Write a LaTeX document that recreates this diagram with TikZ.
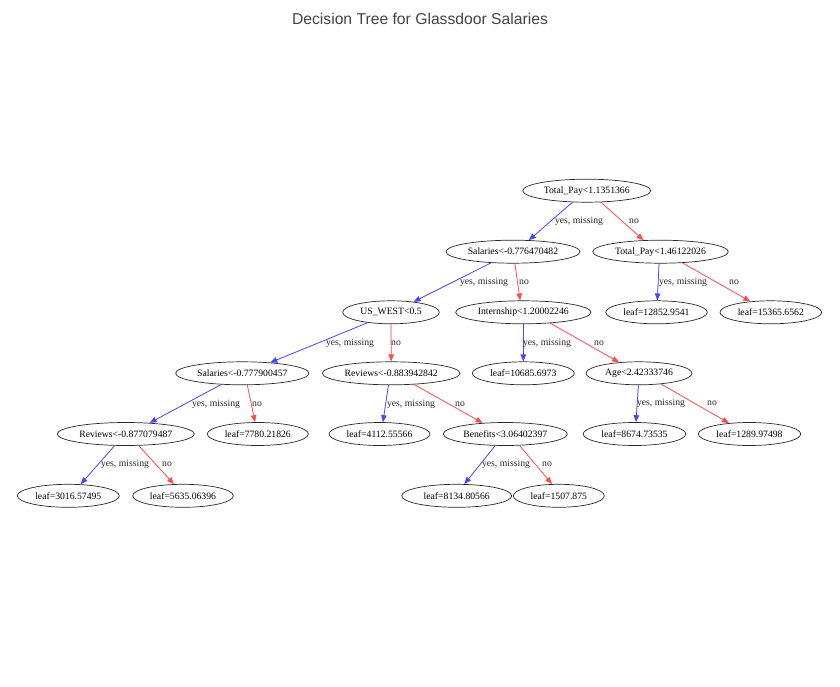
\documentclass[tikz,border=0pt]{standalone}
\usepackage{fontspec}
\setmainfont{Liberation Serif}
\newfontfamily\titlefont{Liberation Sans}
\usetikzlibrary{arrows.meta,shapes.geometric}
\definecolor{yescol}{RGB}{70,70,255}
\definecolor{nocol}{RGB}{255,75,75}
\definecolor{titlegray}{RGB}{68,68,68}
\definecolor{inkgray}{RGB}{40,40,40}
\begin{document}
\begin{tikzpicture}[x=1pt,y=-1pt,
  tn/.style={ellipse,draw=inkgray,line width=0.7pt,inner sep=0pt,minimum height=23pt,
    text=black,font=\fontsize{9.7}{11}\selectfont},
  yesedge/.style={draw=yescol,line width=0.75pt,-{Triangle[length=7pt,width=5.5pt]},fill=yescol},
  noedge/.style={draw=nocol,line width=0.75pt,-{Triangle[length=7pt,width=5.5pt]},fill=nocol},
  lab/.style={font=\fontsize{9.7}{11}\selectfont,inner sep=0pt,text=inkgray},
  ttl/.style={font=\titlefont\fontsize{15.7}{18}\selectfont,text=titlegray,inner sep=0pt}]
\fill[white] (0,0) rectangle (840,687);
\path[use as bounding box] (0,0) rectangle (840,687);

\node[ttl] (title) at (420,19) {Decision Tree for Glassdoor Salaries};

\node[tn,minimum width=128pt] (tp1) at (586.7,190.7) {Total\_Pay<1.1351366};
\node[tn,minimum width=134pt] (sal1) at (513,251.7) {Salaries<-0.776470482};
\node[tn,minimum width=135.6pt] (tp2) at (660.5,251.7) {Total\_Pay<1.46122026};
\node[tn,minimum width=96.6pt] (usw) at (391,312.3) {US\_WEST<0.5};
\node[tn,minimum width=135.3pt] (int) at (523.3,312.3) {Internship<1.20002246};
\node[tn,minimum width=101.6pt] (l1) at (656.5,312.3) {leaf=12852.9541};
\node[tn,minimum width=101.7pt] (l2) at (770.8,312.3) {leaf=15365.6562};
\node[tn,minimum width=133.3pt] (sal2) at (242.3,373.3) {Salaries<-0.777900457};
\node[tn,minimum width=137.7pt] (rev1) at (391.2,373.3) {Reviews<-0.883942842};
\node[tn,minimum width=102pt] (l3) at (523.3,373.3) {leaf=10685.6973};
\node[tn,minimum width=106pt] (age) at (639,373.3) {Age<2.42333746};
\node[tn,minimum width=137pt] (rev2) at (125.8,434) {Reviews<-0.877079487};
\node[tn,minimum width=101pt] (l4) at (257.8,434) {leaf=7780.21826};
\node[tn,minimum width=101pt] (l5) at (379.5,434) {leaf=4112.55566};
\node[tn,minimum width=124pt] (ben) at (505.3,434) {Benefits<3.06402397};
\node[tn,minimum width=102.7pt] (l6) at (634.5,434) {leaf=8674.73535};
\node[tn,minimum width=102.4pt] (l7) at (749.5,434) {leaf=1289.97498};
\node[tn,minimum width=102pt] (l8) at (68.3,495.8) {leaf=3016.57495};
\node[tn,minimum width=100.6pt] (l9) at (183,495.8) {leaf=5635.06396};
\node[tn,minimum width=110pt] (l10) at (456.7,495.8) {leaf=8134.80566};
\node[tn,minimum width=91pt] (l11) at (558.8,495.8) {leaf=1507.875};

\draw[yesedge] (tp1.219) -- (sal1.36);
\draw[noedge] (tp1.321) -- (tp2.146);
\draw[yesedge] (sal1.207) -- (usw.25);
\draw[noedge] (sal1.279) -- (int.105);
\draw[yesedge] (tp2.263) -- (l1.86);
\draw[noedge] (tp2.333) -- (l2.152);
\draw[yesedge] (usw.204) -- (sal2.21);
\draw[noedge] (usw.270) -- (rev1.90);
\draw[yesedge] (int.270) -- (l3.90);
\draw[noedge] (int.338) -- (age.151);
\draw[yesedge] (sal2.208) -- (rev2.25);
\draw[noedge] (sal2.293) -- (l4.103);
\draw[yesedge] (rev1.257) -- (l5.74);
\draw[noedge] (rev1.334) -- (ben.154);
\draw[yesedge] (age.267) -- (l6.83);
\draw[noedge] (age.334) -- (l7.152);
\draw[yesedge] (rev2.226) -- (l8.43);
\draw[noedge] (rev2.318) -- (l9.128);
\draw[yesedge] (ben.229) -- (l10.57);
\draw[noedge] (ben.321) -- (l11.120);

\node[lab] (e1) at (579,221) {yes, missing};
\node[lab] (e2) at (634,221) {no};
\node[lab] (e3) at (484,282) {yes, missing};
\node[lab] (e4) at (524,282) {no};
\node[lab] (e5) at (683,282) {yes, missing};
\node[lab] (e6) at (734,282) {no};
\node[lab] (e7) at (350,343) {yes, missing};
\node[lab] (e8) at (396,343) {no};
\node[lab] (e9) at (547,343) {yes, missing};
\node[lab] (e10) at (599,343) {no};
\node[lab] (e11) at (216,404) {yes, missing};
\node[lab] (e12) at (257,404) {no};
\node[lab] (e13) at (411,404) {yes, missing};
\node[lab] (e14) at (460,404) {no};
\node[lab] (e15) at (661,403) {yes, missing};
\node[lab] (e16) at (712,403) {no};
\node[lab] (e17) at (125,464) {yes, missing};
\node[lab] (e18) at (167,464) {no};
\node[lab] (e19) at (506,464) {yes, missing};
\node[lab] (e20) at (547,464) {no};
\end{tikzpicture}
\end{document}
